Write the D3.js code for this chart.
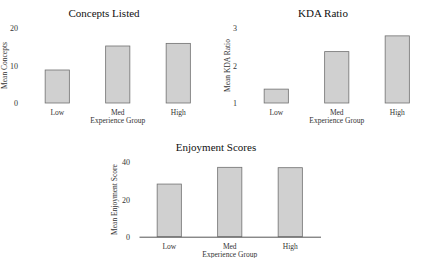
<!DOCTYPE html>
<html>
<head>
<meta charset="utf-8">
<script src="https://cdn.jsdelivr.net/npm/d3@7"></script>
<style>
  body { margin: 0; background: #fff; }
  svg { display: block; font-family: "Liberation Serif", "Times New Roman", serif; }
</style>
</head>
<body>
<div id="chart"></div>
<script>
// Data
var groups = ['Low', 'Med', 'High'];
var conceptValues = [8.8, 15.2, 15.9];
var kdaValues = [1.37, 2.37, 2.79];
var enjoymentValues = [28.3, 37.3, 37.1];
var conceptTicks = [0, 10, 20];
var kdaTicks = [1, 2, 3];
var enjoymentTicks = [0, 20, 40];

var serif = '"Liberation Serif", "Times New Roman", serif';

var svg = d3.select('#chart').append('svg')
    .attr('width', 431)
    .attr('height', 258);

function drawPanel(opts) {
    var g = svg.append('g');

    // Scales setup
    var xScale = d3.scaleBand().domain(groups)
        .range([opts.left, opts.left + 181.5])
        .paddingInner(0.6).paddingOuter(0.3);
    var yScale = d3.scaleLinear().domain(opts.domain).range([opts.bottom, opts.top]);

    // bars
    g.selectAll('rect').data(opts.values).enter().append('rect')
        .attr('x', (d, i) => xScale(groups[i]))
        .attr('y', (d) => yScale(d))
        .attr('width', xScale.bandwidth())
        .attr('height', (d) => opts.bottom - yScale(d))
        .attr('fill', '#d0d0d0')
        .attr('stroke', '#707070')
        .attr('stroke-width', 0.8);

    // y axis
    var gy = g.append('g')
        .attr('transform', `translate(${opts.left - 9},0)`)
        .call(d3.axisLeft(yScale).tickValues(opts.ticks).tickFormat(d3.format('d')).tickSize(0).tickPadding(0))
        .attr('font-family', serif).attr('font-size', 8);
    gy.select('.domain').remove();
    gy.selectAll('text').attr('fill', '#333');

    // x axis
    var gx = g.append('g')
        .attr('transform', `translate(0,${opts.bottom})`)
        .call(d3.axisBottom(xScale).tickSize(0).tickPadding(7))
        .attr('font-family', serif).attr('font-size', 7.5);
    if (opts.axisLine) {
        gx.select('.domain').attr('stroke', '#555').attr('stroke-width', 1);
    } else {
        gx.select('.domain').remove();
    }
    gx.selectAll('text').attr('fill', '#333');

    // titles
    g.append('text')
        .attr('x', opts.left + 77)
        .attr('y', opts.titleY)
        .attr('text-anchor', 'middle')
        .attr('font-size', '11px')
        .attr('fill', '#111')
        .text(opts.title);

    g.append('text')
        .attr('x', opts.left + 90.75)
        .attr('y', opts.bottom + 20)
        .attr('text-anchor', 'middle')
        .attr('font-size', '7.5px')
        .attr('fill', '#333')
        .text('Experience Group');

    g.append('text')
        .attr('transform', `translate(${opts.yLabelX},${(opts.top + opts.bottom) / 2}) rotate(-90)`)
        .attr('text-anchor', 'middle')
        .attr('font-size', '7.5px')
        .attr('fill', '#333')
        .text(opts.yLabel);
}

drawPanel({ title: 'Concepts Listed', yLabel: 'Mean Concepts', values: conceptValues, ticks: conceptTicks,
    domain: [0, 20], left: 27, top: 28, bottom: 103, titleY: 17, yLabelX: 7, axisLine: false });
drawPanel({ title: 'KDA Ratio', yLabel: 'Mean KDA Ratio', values: kdaValues, ticks: kdaTicks,
    domain: [1, 3], left: 246, top: 28, bottom: 103, titleY: 17, yLabelX: 230, axisLine: false });
drawPanel({ title: 'Enjoyment Scores', yLabel: 'Mean Enjoyment Score', values: enjoymentValues, ticks: enjoymentTicks,
    domain: [0, 40], left: 139, top: 162.3, bottom: 236.7, titleY: 151, yLabelX: 117, axisLine: true });
</script>
</body>
</html>
